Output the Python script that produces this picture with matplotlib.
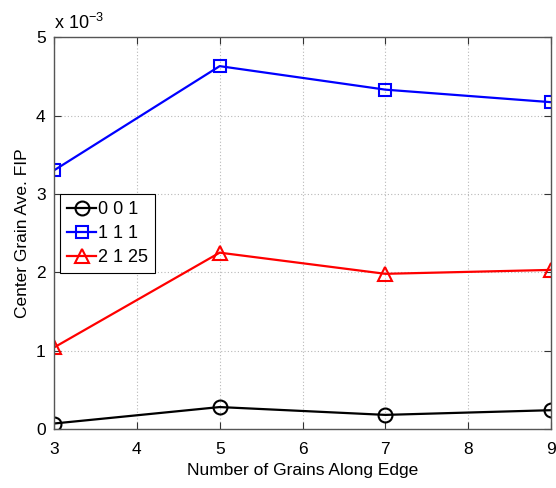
import matplotlib
matplotlib.use("Agg")
import matplotlib.pyplot as plt
from matplotlib.ticker import FuncFormatter

plt.rcParams['font.family'] = ['Liberation Sans', 'DejaVu Sans']

# Grain counts along the edge
grains = [3, 5, 7, 9]

# Center grain average FIP for each loading direction
fip_001 = [0.07e-3, 0.28e-3, 0.18e-3, 0.24e-3]
fip_111 = [3.30e-3, 4.63e-3, 4.33e-3, 4.17e-3]
fip_2125 = [1.04e-3, 2.25e-3, 1.98e-3, 2.03e-3]

labels = ["0 0 1", "1 1 1", "2 1 25"]

fig = plt.figure(figsize=(5.56, 4.88), dpi=100)
ax = fig.add_axes([0.0971, 0.1209, 0.894, 0.803])

ax.plot(grains, fip_001, '-o', color='black', lw=1.6, ms=10, mfc='none', mew=1.5, label=labels[0])
ax.plot(grains, fip_111, '-s', color='blue', lw=1.6, ms=9, mfc='none', mew=1.5, label=labels[1])
ax.plot(grains, fip_2125, '-^', color='red', lw=1.6, ms=10, mfc='none', mew=1.5, label=labels[2])

ax.set_xlim(3, 9)
ax.set_ylim(0, 5e-3)
ax.set_xticks(range(3, 10))
ax.set_yticks([i * 1e-3 for i in range(6)])
ax.yaxis.set_major_formatter(FuncFormatter(lambda v, p: f"{v * 1e3:g}"))

ax.grid(True, linestyle=(0, (1, 2)), color='#b8b8b8', linewidth=0.8)
ax.tick_params(direction='in', top=True, right=True, labelsize=12.5, length=5, colors='#333333', labelcolor='black')
ax.tick_params(axis='x', pad=9)
ax.tick_params(axis='y', pad=6)
for s in ax.spines.values():
    s.set_color('#555555')
    s.set_linewidth(1.0)

ax.set_xlabel("Number of Grains Along Edge", fontsize=12.5, labelpad=5)
ax.set_ylabel("Center Grain Ave. FIP", fontsize=12.5, labelpad=4)

# Exponent label in the top-left corner
ax.text(0.0, 1.01, r"x 10$^{\mathregular{-3}}$", transform=ax.transAxes, fontsize=13, va='bottom', ha='left')

leg = ax.legend(loc='upper left', bbox_to_anchor=(0.012, 0.6), fontsize=13, fancybox=False,
                edgecolor='black', framealpha=1, handlelength=1.6, handletextpad=0.1,
                borderpad=0.4, labelspacing=0.38, borderaxespad=0)
leg.get_frame().set_linewidth(0.8)

fig.savefig("out.png", dpi=100)
